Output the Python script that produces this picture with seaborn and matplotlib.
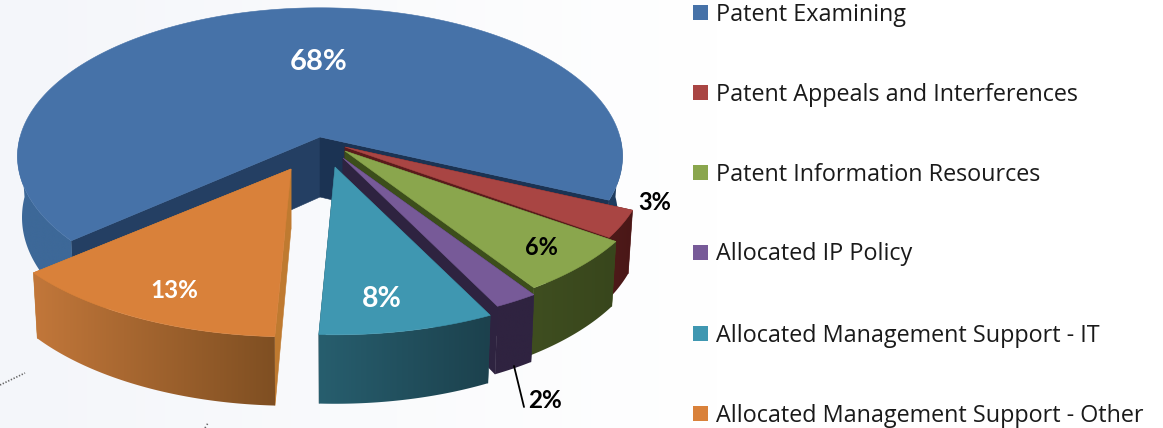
import numpy as np
import matplotlib
matplotlib.use("Agg")
import matplotlib.pyplot as plt
from matplotlib.colors import to_rgb
from matplotlib.patches import Polygon, Rectangle
import seaborn as sns

# Budget shares, clockwise from the largest slice
categories = [
    "Patent Examining",
    "Patent Appeals and Interferences",
    "Patent Information Resources",
    "Allocated IP Policy",
    "Allocated Management Support - IT",
    "Allocated Management Support - Other",
]
shares = [68, 3, 6, 2, 8, 13]

top_colors = ["#4672a8", "#a94543", "#8aa64d", "#775a98", "#3f97b1", "#d9813a"]
wall_left = ["#3d6898", "#4f1b1a", "#3f4e20", "#2f2340", "#275e6e", "#c2773a"]
wall_right = ["#1f3c5f", "#4a1717", "#38461c", "#2f2340", "#1c414d", "#7f4f22"]
face_colors = ["#243f63", "#5a1b1b", "#3c4e1b", "#2e2340", "#1f4653", "#bf7a30"]

# Where each slice's tip sits on the canvas, in pixels, and its horizontal stretch
tips = [(320, 137), (345, 147), (345, 151), (343, 158), (335, 167), (291, 169)]
stretch = [0.99, 0.985, 1.01, 1.02, 1.025, 1.025]

# Perspective ellipse of the pie
RX, RY, PERSP = 303.0, 146.0, 0.13
DEPTH, BOTTOM_X = 60.0, 0.985
FIRST_ANGLE = 139.4

sns.set_theme(style="white", rc={"axes.facecolor": "white"})
palette = sns.color_palette(top_colors)

fig = plt.figure(figsize=(11.63, 4.28), dpi=100)
ax = fig.add_axes([0, 0, 1, 1])

# Pale backdrop, cooler toward the left
bx, by = np.meshgrid(np.linspace(0, 1, 120), np.linspace(0, 1, 60))
fade = np.clip(1 - bx / 0.62, 0, 1)[..., None]
backdrop = (1 - fade) * np.array([1.0, 1.0, 1.0]) + fade * np.array(to_rgb("#f4f6fa"))
ax.imshow(backdrop, extent=(0, 1163, 428, 0), aspect="auto", zorder=0)
ax.plot([0, 25], [385, 373], ls=(0, (0.8, 1.0)), lw=1.2, color="#666666", zorder=1)
ax.plot([205, 208], [428, 423], ls=(0, (0.8, 1.4)), lw=1.2, color="#666666", zorder=1)


def top_point(tip, deg, sx):
    t = np.radians(deg)
    d = 1 - PERSP * np.sin(t)
    return tip[0] + sx * RX * np.cos(t) / d, tip[1] + RY * np.sin(t) / d


def bottom_point(tip, deg, sx):
    t = np.radians(deg)
    d = 1 - PERSP * np.sin(t)
    return tip[0] + sx * BOTTOM_X * RX * np.cos(t) / d, tip[1] + RY * np.sin(t) / d + DEPTH / d


def fill(points, color, z):
    ax.add_patch(Polygon(points, closed=True, facecolor=color, edgecolor=color, lw=0.4, zorder=z))


def wall(tip, a0, a1, sx, left, right, z):
    """Outer wall between two rim angles, shaded left to right."""
    angles = np.linspace(a0, a1, 200)
    upper = [top_point(tip, a, sx) for a in angles]
    lower = [bottom_point(tip, a, sx) for a in angles[::-1]]
    pts = np.array(upper + lower)
    x0, x1 = pts[:, 0].min(), pts[:, 0].max()
    y0, y1 = pts[:, 1].min(), pts[:, 1].max()
    f = np.linspace(0, 1, 128)[None, :, None]
    shade = (1 - f) * np.array(to_rgb(left)) + f * np.array(to_rgb(right))
    im = ax.imshow(shade, extent=(x0, x1, y1, y0), aspect="auto", zorder=z, interpolation="bilinear")
    outline = Polygon(pts, closed=True, transform=ax.transData, facecolor="none", edgecolor="none")
    ax.add_patch(outline)
    im.set_clip_path(outline)


spans = {}
start = FIRST_ANGLE
for i, share in enumerate(shares):
    spans[i] = (start, start + share * 3.6)
    start += share * 3.6

z = 2.0
for i in [0, 1, 2, 3, 5, 4]:
    a0, a1 = spans[i]
    tip, sx = tips[i], stretch[i]
    tip_low = (tip[0], tip[1] + DEPTH)

    # Cut faces down to the lower plane
    fill([tip, top_point(tip, a0, sx), bottom_point(tip, a0, sx), tip_low], face_colors[i], z)
    fill([tip, top_point(tip, a1, sx), bottom_point(tip, a1, sx), tip_low],
         "#1b3353" if i == 0 else face_colors[i], z + 0.01)

    # Outer wall; the large slice shows it only at its two ends
    if i == 0:
        wall(tip, a0, 180, sx, wall_left[i], wall_left[i], z + 0.02)
        wall(tip, 360, a1, sx, wall_right[i], wall_right[i], z + 0.02)
    else:
        wall(tip, a0, a1, sx, wall_left[i], wall_right[i], z + 0.02)

    # Top surface
    arc = [top_point(tip, a, sx) for a in np.linspace(a0, a1, 300)]
    fill([tip] + arc, palette[i], z + 0.03)
    z += 0.1

# Percentage labels
label_font = ["Lato", "DejaVu Sans"]
label_spots = [(319, 62, "white", 21), (655, 202, "black", 17), (541, 247, "black", 17),
               (545, 401, "black", 17.5), (382, 299, "white", 20.5), (174, 291, "white", 17.5)]
for share, (x, y, color, size) in zip(shares, label_spots):
    ax.text(x, y, f"{share}%", color=color, fontsize=size, fontweight="bold",
            family=label_font, ha="center", va="center", zorder=10)

# Leader line for the smallest slice
ax.plot([514, 524], [366, 407], color="black", lw=1.3, zorder=9)

# Legend column
legend_y = [12, 92, 172, 252, 333, 413]
for name, color, y in zip(categories, palette, legend_y):
    ax.add_patch(Rectangle((693, y - 7.5), 15, 15, facecolor=color, edgecolor="none", zorder=10))
    ax.text(716, y + 2.5, name, fontsize=16.85, color="#1a1a1a", family=["Open Sans", "DejaVu Sans"],
            ha="left", va="center", zorder=10)

ax.set_xlim(0, 1163)
ax.set_ylim(428, 0)
ax.axis("off")
fig.savefig("out.png", dpi=100)
